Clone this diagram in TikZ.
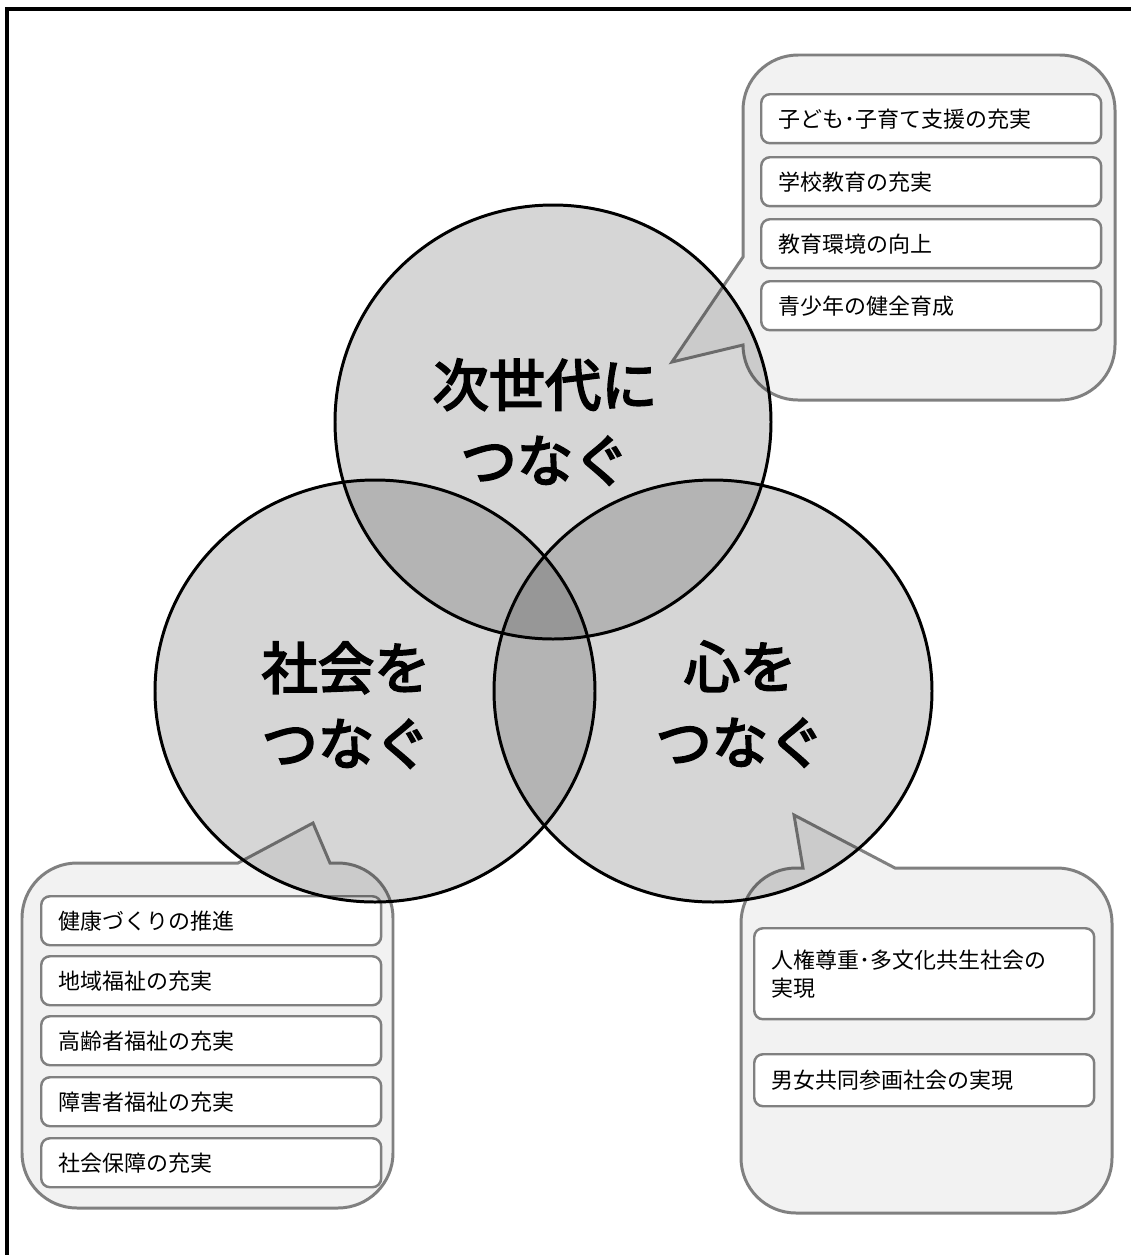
\documentclass[tikz,border=0pt]{standalone}
\usepackage{fontspec}
\setmainfont{Noto Sans CJK JP}
\newfontfamily\bigfont[FakeBold=3.5]{Noto Sans CJK JP}

\begin{document}
\begin{tikzpicture}[x=0.02cm,y=-0.02cm,
  ring/.style={draw=black,line width=1.7pt,fill=black,fill opacity=0.16},
  bubble/.style={draw=black!50,line width=1.7pt,fill=black!5},
  item/.style={draw=black!50,line width=1.4pt,fill=white,rounded corners=5pt,
    anchor=north west,minimum width=6.8cm,minimum height=0.98cm,
    text width=6.1cm,align=left,font=\fontsize{12.5}{16}\selectfont},
  big/.style={font=\bigfont\fontsize{32}{43}\selectfont,align=center}]
  \clip (0,0) rectangle (1131,1255);

  % frame
  \draw[line width=2pt] (7,1300) -- (7,9) -- (1200,9);

  % callouts
  \draw[bubble] (743,257) -- (743,110) arc[start angle=180,end angle=270,radius=55]
    -- (1060,55) arc[start angle=270,end angle=360,radius=55]
    -- (1115,345) arc[start angle=0,end angle=90,radius=55]
    -- (798,400) arc[start angle=90,end angle=180,radius=55]
    -- (672,362) -- cycle;
  \draw[bubble] (22,918) arc[start angle=180,end angle=270,radius=55]
    -- (238,863) -- (313,823) -- (330,863)
    -- (338,863) arc[start angle=270,end angle=360,radius=55]
    -- (393,1153) arc[start angle=0,end angle=90,radius=55]
    -- (77,1208) arc[start angle=90,end angle=180,radius=55] -- cycle;
  \draw[bubble] (741,923) arc[start angle=180,end angle=270,radius=55]
    -- (803,868) -- (794,815) -- (895,868)
    -- (1057,868) arc[start angle=270,end angle=360,radius=55]
    -- (1112,1158) arc[start angle=0,end angle=90,radius=55]
    -- (796,1213) arc[start angle=90,end angle=180,radius=55] -- cycle;

  \node[item] (kids)   at (760,93)  {子ども･子育て支援の充実};
  \node[item] (school) at (760,156) {学校教育の充実};
  \node[item] (env)    at (760,218) {教育環境の向上};
  \node[item] (youth)  at (760,280) {青少年の健全育成};

  \node[item] (health) at (40,895)  {健康づくりの推進};
  \node[item] (region) at (40,955)  {地域福祉の充実};
  \node[item] (elder)  at (40,1015) {高齢者福祉の充実};
  \node[item] (disab)  at (40,1076) {障害者福祉の充実};
  \node[item] (secur)  at (40,1137) {社会保障の充実};

  \node[item,minimum height=1.82cm] (rights) at (753,927) {人権尊重･多文化共生社会の\\実現};
  \node[item,minimum height=1.04cm] (gender) at (753,1053) {男女共同参画社会の実現};

  % circles
  \draw[ring] (553,422) ellipse[x radius=218,y radius=217];
  \draw[ring] (375,691) ellipse[x radius=220,y radius=211];
  \draw[ring] (713,691) ellipse[x radius=219,y radius=211];

  \node[big] (nextgen) at (545,422) {次世代に\\つなぐ};
  \node[big] (society) at (346,705) {社会を\\つなぐ};
  \node[big] (heart)   at (740,704) {心を\\つなぐ};
\end{tikzpicture}
\end{document}
